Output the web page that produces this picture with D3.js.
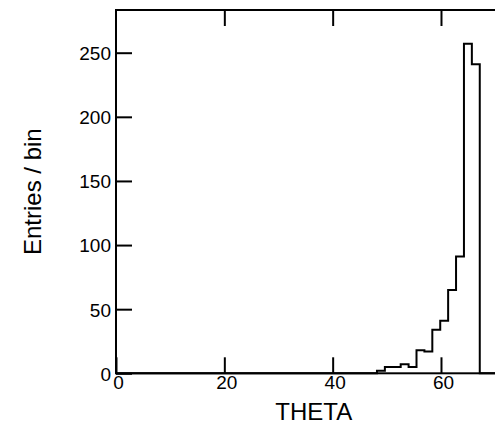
<!DOCTYPE html>
<html>
<head>
<meta charset="utf-8">
<script src="https://cdn.jsdelivr.net/npm/d3@7"></script>
<style>
  html, body { margin: 0; padding: 0; background: #fff; }
  svg { display: block; }
  text { font-family: "Liberation Sans", Arial, Helvetica, sans-serif; fill: #000; }
</style>
</head>
<body>
<svg id="chart" width="495" height="425"></svg>
<script>
// Histogram definition: THETA in [0, 73) split into 50 equal bins
const xMin = 0;
const xMax = 73;
const nBins = 50;
const counts = [
  0, 0, 0, 0, 0, 0, 0, 0, 0, 0,
  0, 0, 0, 0, 0, 0, 0, 0, 0, 0,
  0, 0, 0, 0, 0, 0, 0, 0, 0, 0,
  0, 0, 0, 2, 5, 5, 7, 5, 18, 17,
  34, 41, 65, 91, 257, 241, 0, 0, 0, 0
];
const yMax = 283.3;
const xTicks = [0, 20, 40, 60];
const yTicks = [0, 50, 100, 150, 200, 250];
const xTitle = "THETA";
const yTitle = "Entries / bin";

const svg = d3.select("#chart");
const plotL = 116, plotR = 511.4, plotT = 10, plotB = 373.3;

const x = d3.scaleLinear().domain([xMin, xMax]).range([plotL, plotR]);
const y = d3.scaleLinear().domain([0, yMax]).range([plotB, plotT]);

const binWidth = (xMax - xMin) / nBins;
const bins = counts.map((c, i) => ({ x0: xMin + i * binWidth, x1: xMin + (i + 1) * binWidth, c }));

// Step outline of the histogram
const pts = [[xMin, 0]];
bins.forEach(b => { pts.push([b.x0, b.c]); pts.push([b.x1, b.c]); });
pts.push([xMax, 0]);
const line = d3.line().x(d => x(d[0])).y(d => y(d[1]));
svg.append("path")
  .attr("d", line(pts))
  .attr("fill", "none")
  .attr("stroke", "#000")
  .attr("stroke-width", 2)
  .attr("stroke-linejoin", "miter");

// Axes with inward ticks on all four sides
const tickLen = 16;
function styleAxis(g) {
  g.select(".domain").remove();
  g.selectAll(".tick line").attr("stroke", "#000").attr("stroke-width", 2);
}

svg.append("g")
  .attr("transform", `translate(0,${plotB})`)
  .call(d3.axisBottom(x).tickValues(xTicks).tickSize(-tickLen).tickSizeOuter(0).tickPadding(2))
  .call(styleAxis)
  .call(g => g.selectAll(".tick text").attr("font-size", 19).attr("dx", 2));

svg.append("g")
  .attr("transform", `translate(0,${plotT})`)
  .call(d3.axisTop(x).tickValues(xTicks.filter(v => v > xMin)).tickSize(-tickLen).tickSizeOuter(0).tickFormat(""))
  .call(styleAxis);

svg.append("g")
  .attr("transform", `translate(${plotL},0)`)
  .call(d3.axisLeft(y).tickValues(yTicks).tickSize(-tickLen).tickSizeOuter(0).tickPadding(5))
  .call(styleAxis)
  .call(g => g.selectAll(".tick text").attr("font-size", 19).attr("dy", "0.36em"));

svg.append("g")
  .attr("transform", `translate(${plotR},0)`)
  .call(d3.axisRight(y).tickValues(yTicks.filter(v => v > 0)).tickSize(-tickLen).tickSizeOuter(0).tickFormat(""))
  .call(styleAxis);

// Frame
svg.append("rect")
  .attr("x", plotL).attr("y", plotT)
  .attr("width", plotR - plotL).attr("height", plotB - plotT)
  .attr("fill", "none").attr("stroke", "#000").attr("stroke-width", 2);

// Axis titles
svg.append("text")
  .attr("x", (plotL + plotR) / 2).attr("y", 420)
  .attr("text-anchor", "middle").attr("font-size", 24)
  .text(xTitle);

svg.append("text")
  .attr("transform", `translate(41,${(plotT + plotB) / 2}) rotate(-90)`)
  .attr("text-anchor", "middle").attr("font-size", 24)
  .text(yTitle);
</script>
</body>
</html>
